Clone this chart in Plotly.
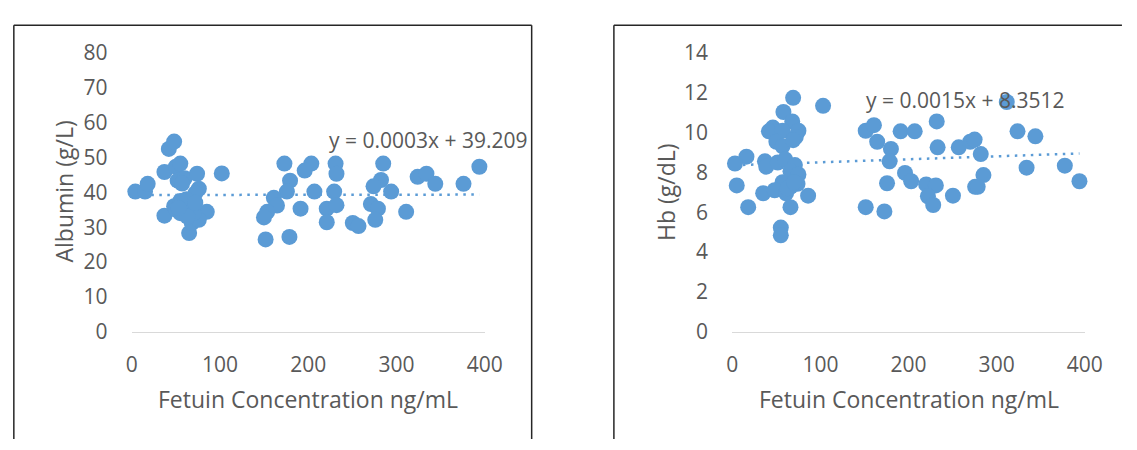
import plotly.graph_objects as go

# ---------------- data ----------------
fetuin_alb = [4, 15, 18, 42, 48, 37, 50, 55, 52, 60, 57, 74, 76, 72, 102,
              37, 85, 65, 68, 76, 48, 50, 55, 58, 60, 62, 65, 68, 70, 55, 63, 72, 53,
              173, 203.5, 196, 231, 232, 179.4, 175.8, 207, 229.4, 161, 164.6, 153.5,
              149.8, 191.3, 221, 232, 221, 250.5, 257, 151.7, 178.7,
              285, 282.5, 274, 294, 271, 279, 276, 311, 324, 334, 344, 376, 394]
albumin = [40.2, 40.2, 42.4, 52.4, 54.5, 45.8, 47.3, 48.2, 43.3, 44, 42.5, 45.3, 41, 39.7, 45.4,
           33.3, 34.4, 28.3, 31.2, 32.1, 36, 35, 34, 37, 36, 38, 35, 36, 34, 37.5, 33, 37, 35.5,
           48.2, 48.2, 46.2, 48.2, 45.3, 43.3, 40.2, 40.2, 40.2, 38.4, 36.2, 34.4,
           32.8, 35.3, 35.3, 36.3, 31.4, 31.2, 30.3, 26.5, 27.2,
           48.2, 43.5, 41.7, 40.2, 36.6, 35.3, 32.1, 34.4, 44.4, 45.3, 42.4, 42.4, 47.3]

fetuin_hb = [69, 103, 58, 68, 46, 41.5, 57, 75, 72, 50, 57, 69,
             16, 3, 37, 38.5, 51.5, 60, 71, 66, 75, 74, 57, 5, 35, 48, 61, 66, 86,
             18, 66, 55, 55, 62.6, 70,
             232, 151.4, 160.7, 191, 207, 164.4, 180, 178.5, 233, 257, 270, 196, 203,
             175.6, 220, 231, 222, 250.4, 228, 151.4, 172.6, 275.6,
             311.5, 323.7, 344, 275, 282, 285, 278.5, 334, 377.4, 394]
hb = [11.73, 11.33, 11.02, 10.55, 10.24, 10.05, 10.08, 10.08, 9.77, 9.53, 9.3, 9.61,
      8.78, 8.44, 8.55, 8.28, 8.49, 8.64, 8.36, 8.05, 7.89, 7.42, 7.5, 7.34, 6.95, 7.1, 6.95, 7.27, 6.83,
      6.25, 6.25, 5.23, 4.84, 7.19, 7.5,
      10.55, 10.08, 10.36, 10.05, 10.05, 9.53, 9.17, 8.55, 9.25, 9.25, 9.53, 7.97, 7.55,
      7.45, 7.39, 7.34, 6.8, 6.83, 6.36, 6.25, 6.04, 7.27,
      11.52, 10.05, 9.8, 9.64, 8.91, 7.86, 7.27, 8.23, 8.33, 7.55]

# trendline equations shown on the chart
alb_slope, alb_intercept = 0.0003, 39.209
hb_slope, hb_intercept = 0.0015, 8.3512
alb_eq_text = "y = 0.0003x + 39.209"
hb_eq_text = "y = 0.0015x + 8.3512"

x_ticks = [0, 100, 200, 300, 400]
alb_ticks = [0, 10, 20, 30, 40, 50, 60, 70, 80]
hb_ticks = [0, 2, 4, 6, 8, 10, 12, 14]

x_title = "Fetuin Concentration ng/mL"
alb_title = "Albumin (g/L)"
hb_title = "Hb (g/dL)"

# ---------------- styling ----------------
W, H = 1137, 450
BLUE = "#5b9bd5"
TXT = "#595959"
FONT = "Open Sans"


def px(x):
    return x / W


def py(y):
    return 1 - y / H


fig = go.Figure()

# trendlines (drawn beneath the markers)
for xs, slope, icpt, xa, ya in [(fetuin_alb, alb_slope, alb_intercept, "x", "y"),
                                 (fetuin_hb, hb_slope, hb_intercept, "x2", "y2")]:
    tx = [min(xs), max(xs)]
    fig.add_trace(go.Scatter(x=tx, y=[slope * v + icpt for v in tx], mode="lines",
                             line=dict(color=BLUE, width=2.5, dash="2.5px,5.5px"),
                             xaxis=xa, yaxis=ya, hoverinfo="skip", showlegend=False))

fig.add_trace(go.Scatter(x=fetuin_alb, y=albumin, mode="markers",
                         marker=dict(color=BLUE, size=16, line=dict(width=0)),
                         cliponaxis=False, xaxis="x", yaxis="y", showlegend=False))
fig.add_trace(go.Scatter(x=fetuin_hb, y=hb, mode="markers",
                         marker=dict(color=BLUE, size=16, line=dict(width=0)),
                         cliponaxis=False, xaxis="x2", yaxis="y2", showlegend=False))

ydom = [py(338), py(40)]
xcommon = dict(range=[0, 400], tickvals=x_ticks, showgrid=False, zeroline=False,
               showline=True, linecolor="#d9d9d9", linewidth=1.3,
               ticks="outside", ticklen=14, tickcolor="rgba(0,0,0,0)",
               tickfont=dict(family=FONT, size=21, color=TXT), fixedrange=True)
ycommon = dict(showgrid=False, zeroline=False, showline=False,
               ticks="outside", ticklen=19, tickcolor="rgba(0,0,0,0)",
               tickfont=dict(family=FONT, size=21, color=TXT), fixedrange=True)

fig.update_layout(
    width=W, height=H, autosize=False,
    margin=dict(l=0, r=0, t=0, b=0),
    paper_bgcolor="white", plot_bgcolor="white",
    xaxis=dict(domain=[px(128.5), px(489)], anchor="y", **xcommon),
    yaxis=dict(domain=ydom, anchor="x", range=[0, 80], tickvals=alb_ticks, **ycommon),
    xaxis2=dict(domain=[px(742), px(1102)], anchor="y2", **xcommon),
    yaxis2=dict(domain=ydom, anchor="x2", range=[0, 14], tickvals=hb_ticks, **ycommon),
)

tfont = dict(family=FONT, size=23, color=TXT)
efont = dict(family=FONT, size=21, color=TXT)
ann = [
    dict(text=x_title, x=px(309), y=py(410), font=tfont),
    dict(text=x_title, x=px(922), y=py(410), font=tfont),
    dict(text=alb_title, x=px(59), y=py(188.5), font=tfont, textangle=-90),
    dict(text=hb_title, x=px(674), y=py(189), font=tfont, textangle=-90),
    dict(text=alb_eq_text, x=px(328), y=py(133), font=efont, xanchor="left"),
    dict(text=hb_eq_text, x=px(877), y=py(91), font=efont, xanchor="left"),
]
for a in ann:
    a.setdefault("xanchor", "center")
    fig.add_annotation(xref="paper", yref="paper", yanchor="middle", showarrow=False, **a)

# chart-area frames (bottom/right edges fall outside the picture)
frame = dict(color="#262626", width=1.5)
for x0, y0, x1, y1 in [(8, 11, 537, 11), (8, 11, 8, 452), (537, 11, 537, 452),
                       (621, 11, 1140, 11), (621, 11, 621, 452)]:
    fig.add_shape(type="line", xref="paper", yref="paper",
                  x0=px(x0), y0=py(y0), x1=px(x1), y1=py(y1), line=frame)

fig.write_html("out.html")
